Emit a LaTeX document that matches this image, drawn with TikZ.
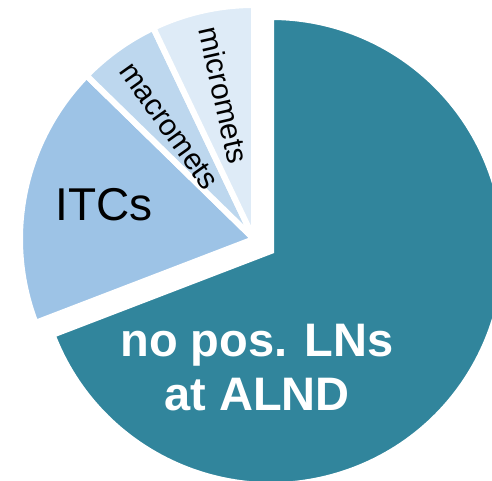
\documentclass[tikz,border=0pt]{standalone}
\usepackage{fontspec}
\setmainfont{Liberation Sans}
\definecolor{tealc}{HTML}{31859C}
\definecolor{itcc}{HTML}{9DC3E6}
\definecolor{macroc}{HTML}{BDD7EE}
\definecolor{microc}{HTML}{DEEBF7}
\begin{document}
\begin{tikzpicture}[x=1pt,y=1pt,
  slice/.style={draw=white,line width=6pt,line join=miter},
  smalllabel/.style={font=\fontsize{30}{36}\selectfont,text=black,inner sep=0pt},
  biglabel/.style={font=\fontsize{46}{54}\selectfont,text=black,inner sep=0pt},
  mainlabel/.style={font=\fontsize{47}{54}\selectfont\bfseries,text=white,align=center,inner sep=0pt}]
\useasboundingbox (0,0) rectangle (492,481);
\clip (0,0) rectangle (492,481);
\coordinate (O) at (254,242);
\coordinate (T) at (271,230);
% teal slice (exploded)
\filldraw[slice,fill=tealc] (T) -- ++(201:234) arc[start angle=201,end angle=450,radius=234] -- cycle;
% ITCs
\filldraw[slice,fill=itcc] (O) -- ++(135.7:234) arc[start angle=135.7,end angle=201,radius=234] -- cycle;
% macromets
\filldraw[slice,fill=macroc] (O) -- ++(115.5:234) arc[start angle=115.5,end angle=135.7,radius=234] -- cycle;
% micromets
\filldraw[slice,fill=microc] (O) -- ++(90:234) arc[start angle=90,end angle=115.5,radius=234] -- cycle;
% labels
\node[mainlabel] (nopos) at (257,113) {no pos. LNs\\at ALND};
\node[biglabel] (itcs) at (104,276.5) {ITCs};
\node[smalllabel,rotate=-54.4] (macro) at (169,355) {macromets};
\node[smalllabel,rotate=-77.25] (micro) at (224,386) {micromets};
\end{tikzpicture}
\end{document}
